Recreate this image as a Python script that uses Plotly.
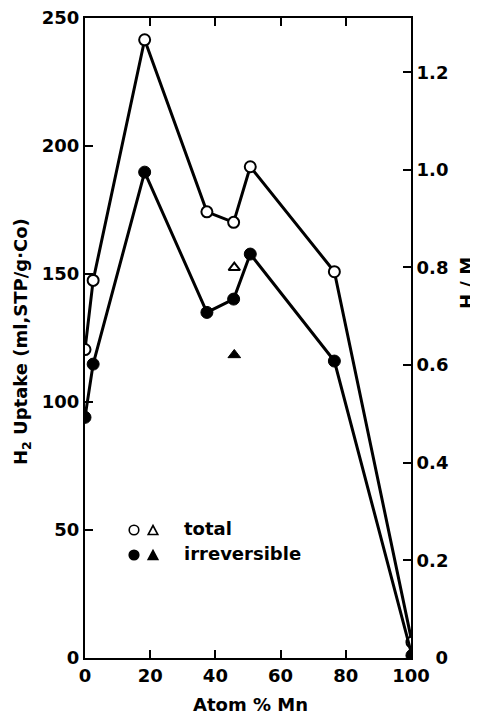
import plotly.graph_objects as go

# Data
atom_mn = [0, 2.5, 18.3, 37.4, 45.6, 50.7, 76.5, 100.3]
total_ml = [120.5, 147.5, 241.5, 174.3, 170.2, 191.9, 150.9, 6.2]
irrev_ml = [94, 114.8, 189.8, 135.0, 140.2, 157.8, 116.0, 1.0]
tri_x = [45.8]
tri_total = [152.5]
tri_irrev = [118.4]

x_ticks = [0, 20, 40, 60, 80, 100]
y_ticks = [0, 50, 100, 150, 200, 250]
hm_ticks = [0, 0.2, 0.4, 0.6, 0.8, 1.0, 1.2]
hm_labels = ["\u00a0\u00a0\u00a00", "0.2", "0.4", "0.6", "0.8", "1.0", "1.2"]

FONT = dict(family="DejaVu Sans", size=18, color="black", weight="bold")

PX_W, PX_H = 326, 640  # plot area size in pixels
OFF = 8  # page body margin

fig = go.Figure()
line = dict(color="black", width=3)
fig.add_trace(go.Scatter(x=atom_mn, y=total_ml, mode="lines+markers", line=line,
                         marker=dict(symbol="circle", size=11, color="white",
                                     line=dict(color="black", width=2))))
fig.add_trace(go.Scatter(x=atom_mn, y=irrev_ml, mode="lines+markers", line=line,
                         marker=dict(symbol="circle", size=12, color="black",
                                     line=dict(color="black", width=1))))
fig.add_trace(go.Scatter(x=tri_x, y=tri_total, mode="markers",
                         marker=dict(symbol="triangle-up", size=10, color="white",
                                     line=dict(color="black", width=2))))
fig.add_trace(go.Scatter(x=tri_x, y=tri_irrev, mode="markers",
                         marker=dict(symbol="triangle-up", size=11, color="black",
                                     line=dict(color="black", width=1))))
# invisible trace to activate right axis
fig.add_trace(go.Scatter(x=[None], y=[None], yaxis="y2", showlegend=False))

axis_common = dict(ticks="inside", ticklen=8, tickwidth=1.6, tickcolor="black",
                   showline=True, linecolor="black", linewidth=2,
                   showgrid=False, zeroline=False, tickfont=FONT, automargin=False,
                   ticklabeloverflow="allow")

fig.update_layout(
    width=478 - OFF, height=715 - OFF,
    margin=dict(l=85 - OFF, r=67, t=18 - OFF, b=57),
    paper_bgcolor="white", plot_bgcolor="white",
    showlegend=False,
    font=FONT,
    xaxis=dict(range=[0, 100.01], tickvals=x_ticks, mirror="ticks", **axis_common),
    yaxis=dict(range=[0, 250.01], tickvals=y_ticks, **axis_common),
    yaxis2=dict(range=[0, 1.311], overlaying="y", side="right", tickvals=hm_ticks,
                ticktext=hm_labels, **axis_common),
)

def px_x(p):
    return (p - 85) / PX_W

def px_y(p):
    return (658 - p) / PX_H

def label(text, x, y, angle=0, xanchor="center"):
    fig.add_annotation(text=text, xref="paper", yref="paper", x=px_x(x), y=px_y(y),
                       textangle=angle, showarrow=False, font=FONT,
                       xanchor=xanchor, yanchor="middle")

# Axis titles
label("Atom % Mn", 250, 704)
label("H<sub>2</sub> Uptake (ml,STP/g·Co)", 22, 342, angle=-90)
label("H / M", 466, 283, angle=-90)

# Legend drawn as shapes + text
def circ(xc, yc, filled):
    rx, ry = 4.8 / PX_W, 4.8 / PX_H
    fig.add_shape(type="circle", xref="paper", yref="paper",
                  x0=xc - rx, x1=xc + rx, y0=yc - ry, y1=yc + ry,
                  line=dict(color="black", width=1.6),
                  fillcolor="black" if filled else "white")

def tri(xc, yc, filled):
    hw, hh = 4.8 / PX_W, 4.5 / PX_H
    path = f"M {xc-hw} {yc-hh} L {xc+hw} {yc-hh} L {xc} {yc+hh} Z"
    fig.add_shape(type="path", xref="paper", yref="paper", path=path,
                  line=dict(color="black", width=1.6),
                  fillcolor="black" if filled else "white")

row1, row2 = px_y(530), px_y(555)
cx, tx = px_x(134), px_x(153)
circ(cx, row1, False); tri(tx, row1, False)
circ(cx, row2, True); tri(tx, row2, True)
label("total", 182, 528, xanchor="left")
label("irreversible", 182, 553, xanchor="left")

fig.write_html("out.html")
